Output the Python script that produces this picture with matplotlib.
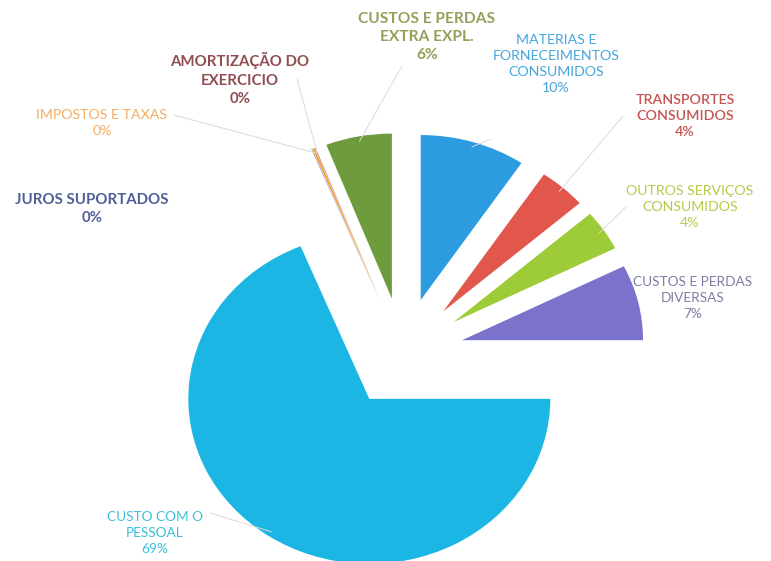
import numpy as np
import matplotlib
matplotlib.use("Agg")
import matplotlib.pyplot as plt

# ---- data ----
categories = [
    "MATERIAS E\nFORNECEIMENTOS\nCONSUMIDOS",
    "TRANSPORTES\nCONSUMIDOS",
    "OUTROS SERVIÇOS\nCONSUMIDOS",
    "CUSTOS E PERDAS\nDIVERSAS",
    "CUSTO COM O\nPESSOAL",
    "JUROS SUPORTADOS",
    "IMPOSTOS E TAXAS",
    "AMORTIZAÇÃO DO\nEXERCICIO",
    "CUSTOS E PERDAS\nEXTRA EXPL.",
]
values = [9.4, 4.2, 4.0, 7.4, 68.8, 0.05, 0.2, 0.05, 5.9]
pct_labels = ["10%", "4%", "4%", "7%", "69%", "0%", "0%", "0%", "6%"]

# ---- style ----
wedge_colors = ["#2C9BE0", "#E2574C", "#9ECB38", "#7B72CC", "#1CB6E4",
                "#5A7DB8", "#F5A030", "#9C4A4A", "#6E9B3C"]
text_colors = ["#45A6DC", "#C65450", "#B2CC48", "#7E7EA6", "#3CC0DA",
               "#4F5F95", "#F2AE62", "#8E4E52", "#96A05A"]
weights = ["normal", "semibold", "normal", "normal", "normal",
           "bold", "normal", "bold", "bold"]
sizes = [10.2, 10.2, 10.2, 9.8, 9.8, 10.8, 10.2, 10.8, 11.2]
# label centre positions in pixels (x, y from top) -- layout only
label_px = [(556, 64), (685, 116), (690, 207), (693, 298), (155, 533),
            (92, 209), (102, 123), (240, 79), (427, 37)]

W, H = 771, 561
fig = plt.figure(figsize=(W / 100, H / 100), dpi=100)
ax = fig.add_axes([0, 0, 1, 1])

wedges, _ = ax.pie(values, colors=wedge_colors, startangle=90,
                   counterclock=False, explode=[0.335] * len(values),
                   radius=1.0, wedgeprops={"linewidth": 0})
ax.set_aspect("auto")
ax.set_xlim(-2.227, 2.033)
ax.set_ylim(-1.261, 2.139)
ax.axis("off")

def fig_frac(px, py):
    return px / W, 1 - py / H

# leader anchor offsets (pixels relative to label centre) -- layout only
anchor_px = [(-65, 75), (-62, 0), (-64, 0), (-60, -10), (55, -20),
             (0, 0), (72, -8), (57, 0), (-25, 29)]
draw_leader = [True, True, True, False, True, False, True, True, True]

for w, cat, pct, col, wt, fs, (px, py), (ax_off, ay_off), dl in zip(
        wedges, categories, pct_labels, text_colors, weights, sizes,
        label_px, anchor_px, draw_leader):
    fx, fy = fig_frac(px, py)
    fig.text(fx, fy, cat + "\n" + pct, ha="center", va="center",
             color=col, fontsize=fs, family=["Lato", "DejaVu Sans"],
             fontweight=wt, linespacing=1.38)
    if dl:
        cx, cy = w.center
        tm = np.deg2rad((w.theta1 + w.theta2) / 2)
        tx, ty = cx + 0.97 * np.cos(tm), cy + 0.97 * np.sin(tm)
        ax.annotate("", xy=(tx, ty),
                    xytext=fig_frac(px + ax_off, py + ay_off),
                    textcoords="figure fraction",
                    arrowprops=dict(arrowstyle="-", color="#DADADA", lw=0.7,
                                    shrinkA=0, shrinkB=0))

fig.savefig("out.png", dpi=100, facecolor="white")
